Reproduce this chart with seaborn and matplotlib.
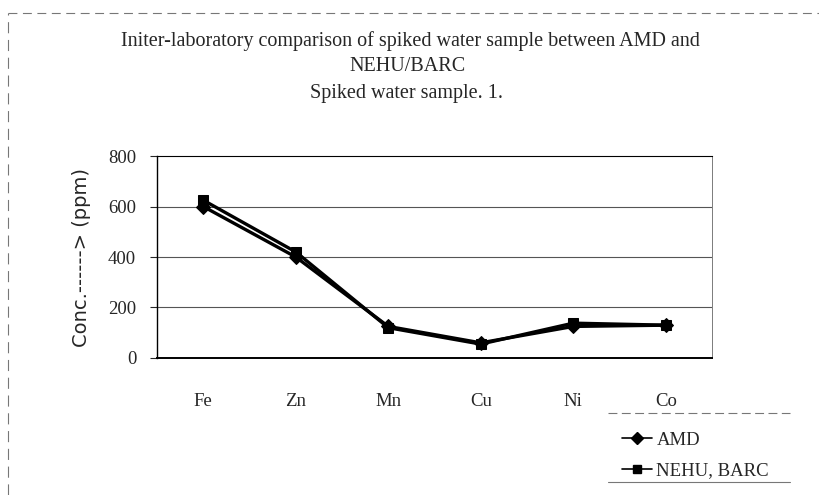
import matplotlib
matplotlib.use("Agg")
import matplotlib.pyplot as plt
import seaborn as sns
import pandas as pd
from matplotlib.lines import Line2D

elements = ["Fe", "Zn", "Mn", "Cu", "Ni", "Co"]
amd = [600, 400, 125, 60, 125, 130]
nehu_barc = [625, 420, 120, 55, 138, 130]
series_names = ["AMD", "NEHU, BARC"]
y_ticks = [0, 200, 400, 600, 800]

df = pd.DataFrame({
    "element": elements * 2,
    "conc": amd + nehu_barc,
    "lab": [series_names[0]] * len(elements) + [series_names[1]] * len(elements),
})

sns.set_style("white")
plt.rcParams["font.family"] = ["Liberation Serif", "DejaVu Serif"]

fig = plt.figure(figsize=(8.2, 4.95), dpi=100)
ax = fig.add_axes([0.1915, 0.2768, 0.6768, 0.408])

sns.lineplot(
    data=df, x="element", y="conc", hue="lab", style="lab",
    palette=["black", "black"], markers={"AMD": "D", "NEHU, BARC": "s"},
    dashes=False, linewidth=2.4, markersize=7.5, markeredgecolor="black",
    sort=False, ax=ax, legend=False,
)

ax.set_xlim(-0.5, len(elements) - 0.5)
ax.set_ylim(0, 800)
ax.set_yticks(y_ticks)
ax.set_yticklabels([str(v) for v in y_ticks], fontsize=13.5)
ax.set_xticks(range(len(elements)))
ax.set_xticklabels(elements, fontsize=13.5)
ax.tick_params(axis="x", length=0, pad=25)
ax.tick_params(axis="y", length=5, width=0.8, direction="out", pad=10, left=True)
for v in y_ticks[1:-1]:
    ax.axhline(v, color="#555555", linewidth=0.8, zorder=0)
for side in ["top", "right", "left", "bottom"]:
    ax.spines[side].set_visible(True)
    ax.spines[side].set_color("black")
ax.spines["top"].set_linewidth(0.8)
ax.spines["right"].set_linewidth(0.6)
ax.spines["right"].set_color("#666666")
ax.spines["left"].set_linewidth(1.0)
ax.spines["bottom"].set_linewidth(1.4)
ax.set_xlabel("")
ax.set_ylabel("Conc.------> (ppm)", family="DejaVu Sans", fontsize=14, labelpad=12)

title_kw = dict(ha="center", va="center", fontsize=14.5)
fig.text(0.5, 0.918, "Initer-laboratory comparison of spiked water sample between AMD and", **title_kw)
fig.text(0.497, 0.866, "NEHU/BARC", **title_kw)
fig.text(0.496, 0.812, "Spiked water sample. 1.", **title_kw)

# outer chart frame (dashed, as in the scan)
fig.add_artist(Line2D([0.01, 1.0], [0.974, 0.974], transform=fig.transFigure,
                      color="#777777", linewidth=0.8, linestyle=(0, (8, 5))))
fig.add_artist(Line2D([0.01, 0.01], [0.0, 0.974], transform=fig.transFigure,
                      color="#777777", linewidth=0.8, linestyle=(0, (10, 6))))

# legend
handles = [
    Line2D([], [], color="black", marker="D", markersize=6, linewidth=1.2),
    Line2D([], [], color="black", marker="s", markersize=6, linewidth=1.2),
]
fig.legend(handles, series_names, loc="center left",
           bbox_to_anchor=(0.749, 0.0, 0.22, 0.16),
           frameon=False, fontsize=13.5, handlelength=1.6, handletextpad=0.25,
           labelspacing=0.7, borderaxespad=0)
fig.add_artist(Line2D([0.741, 0.963], [0.166, 0.166], transform=fig.transFigure,
                      color="#777777", linewidth=0.8, linestyle=(0, (8, 4))))
fig.add_artist(Line2D([0.741, 0.963], [0.026, 0.026], transform=fig.transFigure,
                      color="#777777", linewidth=0.8))

fig.savefig("out.png", dpi=100)
